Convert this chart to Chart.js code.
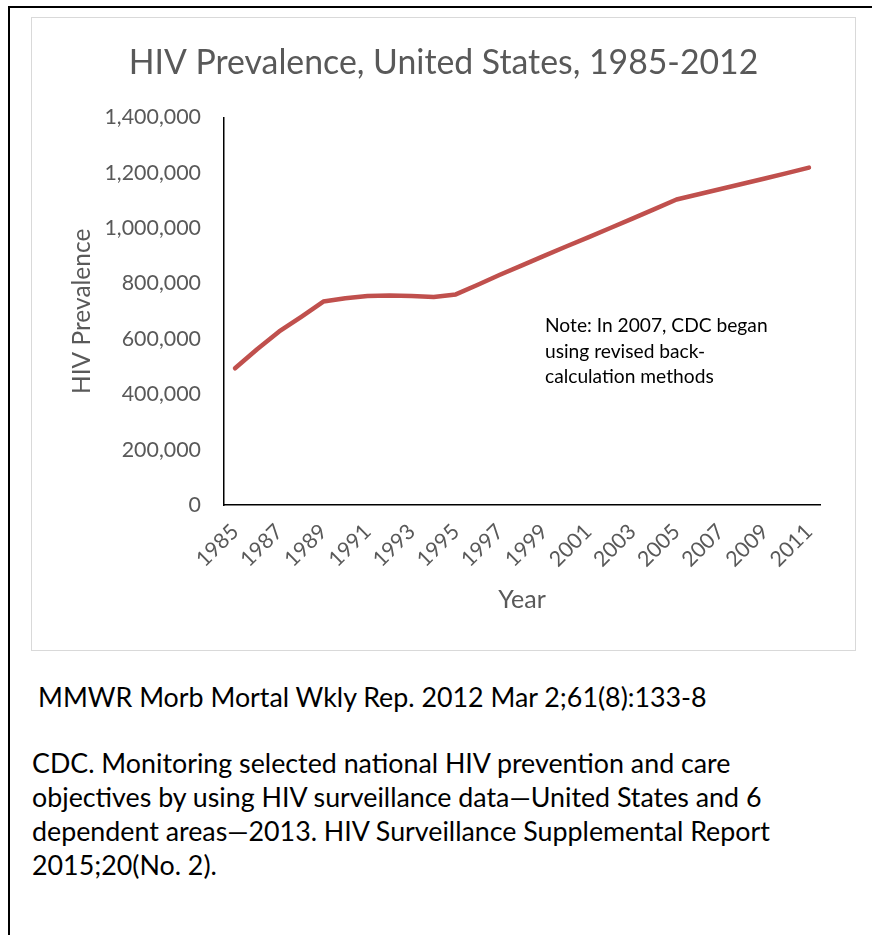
<!DOCTYPE html>
<html>
<head>
<meta charset="utf-8">
<script src="https://cdn.jsdelivr.net/npm/chart.js@4"></script>
<style>
  html, body { margin: 0; padding: 0; background: #fff; width: 872px; height: 935px; overflow: hidden; }
  #frame { position: absolute; left: 8px; top: 6px; width: 900px; height: 1000px; border-left: 2px solid #000; border-top: 2px solid #000; }
  #box { position: absolute; left: 31px; top: 17px; width: 823px; height: 632px; border: 1.5px solid #d9d9d9; }
  #chart { position: absolute; left: 0; top: 0; }
  .txt { position: absolute; font-family: Lato, sans-serif; color: #000; white-space: nowrap; }
  #note { left: 545px; top: 312px; font-size: 19.2px; line-height: 25.5px; }
  #cite1 { left: 38px; top: 680px; font-size: 26.8px; line-height: 34px; }
  #cite2 { left: 32px; top: 746px; font-size: 26.8px; line-height: 34px; }
</style>
</head>
<body>
<div id="frame"></div>
<div id="box"><canvas id="chart" width="823" height="632"></canvas></div>
<div class="txt" id="note">Note: In 2007, CDC began<br>using revised back-<br>calculation methods</div>
<div class="txt" id="cite1">MMWR Morb Mortal Wkly Rep. 2012 Mar 2;61(8):133-8</div>
<div class="txt" id="cite2">CDC. Monitoring selected national HIV prevention and care<br>objectives by using HIV surveillance data—United States and 6<br>dependent areas—2013. HIV Surveillance Supplemental Report<br>2015;20(No. 2).</div>
<script>
const years = ['1985','1986','1987','1988','1989','1990','1991','1992','1993','1994','1995','1996','1997','1998','1999','2000','2001','2002','2003','2004','2005','2006','2007','2008','2009','2010','2011'];
const prevalence = [494000, 563000, 627000, 680000, 735000, 747000, 755000, 757000, 755000, 752000, 761000, 796000, 832000, 866000, 900000, 934000, 967000, 1001000, 1035000, 1069000, 1104000, 1123000, 1142000, 1161000, 1180000, 1199000, 1219000];
const yTicks = [0, 200000, 400000, 600000, 800000, 1000000, 1200000, 1400000];
const titleText = 'HIV Prevalence, United States, 1985-2012';

const FONT = 'Lato, sans-serif';
const GREY = '#595959';

new Chart(document.getElementById('chart'), {
  type: 'line',
  data: {
    labels: years,
    datasets: [{
      label: 'HIV Prevalence',
      data: prevalence,
      yAxisID: 'y',
      borderColor: '#c0504d',
      backgroundColor: '#c0504d',
      borderWidth: 4.5,
      pointRadius: 0,
      tension: 0,
      borderCapStyle: 'round',
      borderJoinStyle: 'round',
      fill: false
    }]
  },
  options: {
    responsive: false,
    animation: false,
    devicePixelRatio: 1,
    layout: { padding: 0 },
    plugins: {
      legend: { display: false },
      tooltip: { enabled: false },
      title: {
        display: true,
        text: titleText,
        color: GREY,
        font: { family: FONT, size: 33.8, weight: 'normal' },
        padding: { top: 25, bottom: 34 }
      }
    },
    scales: {
      x: {
        type: 'category',
        offset: true,
        grid: { display: false, drawTicks: false },
        border: { display: true, color: '#000', width: 1.5 },
        ticks: {
          autoSkip: false,
          minRotation: 45,
          maxRotation: 45,
          padding: 14,
          color: GREY,
          font: { family: FONT, size: 21.4 },
          callback: function(value, index) { return index % 2 === 0 ? this.getLabelForValue(value) : ''; }
        },
        title: {
          display: true,
          text: 'Year',
          color: GREY,
          font: { family: FONT, size: 25 },
          padding: { top: 0, bottom: 35 }
        },
        afterFit: function(scale) { scale.height = 145; }
      },
      y: {
        position: 'left',
        min: 0,
        max: 1400000,
        afterBuildTicks: function(scale) { scale.ticks = yTicks.map(v => ({ value: v })); },
        grid: { display: false, drawTicks: false },
        border: { display: true, color: '#000', width: 1.5 },
        ticks: {
          padding: 23,
          color: GREY,
          font: { family: FONT, size: 21.4 },
          callback: function(value) { return Number(value).toLocaleString('en-US'); }
        },
        title: {
          display: true,
          text: 'HIV Prevalence',
          color: GREY,
          font: { family: FONT, size: 24.5 },
          padding: { top: 35, bottom: 0 }
        },
        afterFit: function(scale) { scale.width = 192; }
      },
      spacer: {
        type: 'linear',
        position: 'right',
        display: true,
        grid: { display: false, drawTicks: false },
        border: { display: false },
        ticks: { display: false },
        afterFit: function(scale) { scale.width = 35; }
      }
    }
  }
});
</script>
</body>
</html>
